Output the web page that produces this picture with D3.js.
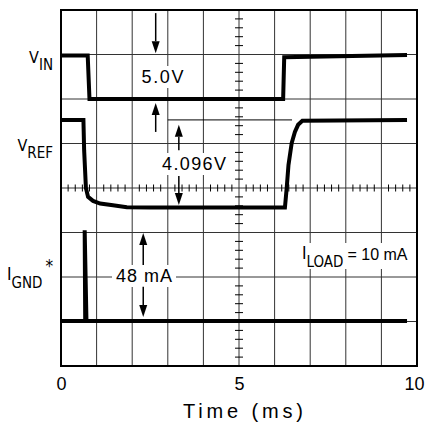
<!DOCTYPE html>
<html>
<head>
<meta charset="utf-8">
<script src="https://cdn.jsdelivr.net/npm/d3@7"></script>
<style>
  body { margin: 0; background: #fff; }
  text { font-family: "DejaVu Sans Condensed", "Liberation Sans", sans-serif; fill: #000; }
  .reg { font-family: "Liberation Sans", Arial, sans-serif; }
</style>
</head>
<body>
<script>
// scope screen: 10 time divisions (1 ms/div), 8 vertical divisions
const timeTicks = [0, 5, 10];

// V_IN trace (time in ms, screen divisions)
const vinTime = [0, 0.75, 0.80, 6.24, 6.27, 9.72];
const vinDiv  = [6.98, 6.98, 6.0, 6.0, 6.94, 6.99];

// V_REF trace
const vrefTime = [0, 0.63, 0.65, 0.70, 0.76, 0.90, 1.10, 1.46, 1.85, 2.5, 6.29, 6.34, 6.39, 6.48, 6.57, 6.66, 6.78, 9.72];
const vrefDiv  = [5.53, 5.53, 4.85, 4.0, 3.80, 3.71, 3.65, 3.61, 3.57, 3.56, 3.56, 4.0, 4.52, 5.01, 5.26, 5.42, 5.51, 5.53];

// I_GND trace
const ignTime = [0, 0.68, 0.665, 0.715, 9.72];
const ignDiv  = [1.01, 1.01, 3.05, 1.01, 1.01];

const W = 428, H = 437;
const svg = d3.select("body").append("svg").attr("width", W).attr("height", H);

const x = d3.scaleLinear().domain([0, 10]).range([61, 417]);
const y = d3.scaleLinear().domain([0, 8]).range([366, 10]);

// grid
const grid = svg.append("g").attr("stroke", "#333").attr("stroke-width", 1);
grid.selectAll(".v").data(d3.range(1, 10)).enter().append("line")
  .attr("x1", d => x(d)).attr("x2", d => x(d)).attr("y1", y(8)).attr("y2", y(0));
grid.selectAll(".h").data(d3.range(1, 8)).enter().append("line")
  .attr("y1", d => y(d)).attr("y2", d => y(d)).attr("x1", x(0)).attr("x2", x(10));

// minor ticks on the centre lines
const minor = svg.append("g").attr("stroke", "#000").attr("stroke-width", 1);
minor.selectAll(".mx").data(d3.range(1, 50).filter(i => i % 5 !== 0)).enter().append("line")
  .attr("x1", d => x(d / 5)).attr("x2", d => x(d / 5))
  .attr("y1", y(4) - 3.5).attr("y2", y(4) + 3.5);
minor.selectAll(".my").data(d3.range(1, 40).filter(i => i % 5 !== 0)).enter().append("line")
  .attr("y1", d => y(d / 5)).attr("y2", d => y(d / 5))
  .attr("x1", x(5) - 4).attr("x2", x(5) + 4);

// frame
svg.append("rect").attr("x", x(0)).attr("y", y(8))
  .attr("width", x(10) - x(0)).attr("height", y(0) - y(8))
  .attr("fill", "none").attr("stroke", "#000").attr("stroke-width", 2);

// reference line for 4.096V
svg.append("line").attr("x1", x(3.0)).attr("x2", x(6.49))
  .attr("y1", y(5.53)).attr("y2", y(5.53)).attr("stroke", "#000").attr("stroke-width", 1);

// labels with white box
function boxLabel(s, cx, base, size, len) {
  const g = svg.append("g");
  const t = g.append("text").attr("class", "reg").attr("x", cx).attr("y", base)
    .attr("text-anchor", "middle").attr("font-size", size)
    .attr("textLength", len).attr("lengthAdjust", "spacing").text(s);
  const b = t.node().getBBox();
  g.insert("rect", "text").attr("x", b.x - 4).attr("y", b.y - 1)
    .attr("width", b.width + 8).attr("height", b.height + 2).attr("fill", "#fff");
}

boxLabel("5.0V", 162.5, 83, 18, 42);
boxLabel("4.096V", 194, 170, 18, 64);
boxLabel("48 mA", 144, 282, 18, 56);

// I_LOAD annotation
(function () {
  const g = svg.append("g");
  g.append("rect").attr("x", 299).attr("y", 243).attr("width", 114).attr("height", 26).attr("fill", "#fff");
  const t = g.append("text").attr("x", 302).attr("y", 259).attr("font-size", 17);
  t.append("tspan").text("I");
  t.append("tspan").attr("dy", 8).attr("font-size", 15).text("LOAD");
  t.append("tspan").attr("class", "reg").attr("dy", -7).attr("dx", 4).attr("font-size", 16).text("= 10 mA");
})();

// arrows
function arrow(t, from, to) {
  const px = x(t), y0 = y(from), y1 = y(to);
  const dir = y1 > y0 ? 1 : -1;
  const hl = 12, hw = 4;
  svg.append("line").attr("x1", px).attr("x2", px).attr("y1", y0).attr("y2", y1 - dir * hl)
    .attr("stroke", "#000").attr("stroke-width", 1.5);
  svg.append("path").attr("d", `M${px},${y1}L${px - hw},${y1 - dir * hl}L${px + hw},${y1 - dir * hl}Z`)
    .attr("fill", "#000");
}
arrow(2.66, 7.93, 7.03);
arrow(2.66, 5.26, 5.91);
arrow(3.31, 4.85, 5.42);
arrow(3.31, 4.27, 3.62);
arrow(2.31, 2.27, 2.99);
arrow(2.31, 1.78, 1.10);

// traces
const line = d3.line().x(d => x(d[0])).y(d => y(d[1]));
function trace(ts, vs) {
  svg.append("path").datum(ts.map((t, i) => [t, vs[i]]))
    .attr("d", line).attr("fill", "none").attr("stroke", "#000")
    .attr("stroke-width", 4).attr("stroke-linejoin", "miter");
}
trace(vinTime, vinDiv);
trace(vrefTime, vrefDiv);
trace(ignTime, ignDiv);

// x axis tick labels
const ax = svg.append("g").attr("transform", `translate(0,${y(0)})`)
  .call(d3.axisBottom(x).tickValues(timeTicks).tickSize(0).tickPadding(11));
ax.select(".domain").remove();
ax.selectAll("text").attr("font-size", 18)
  .style("font-family", '"Liberation Sans",Arial,sans-serif')
  .attr("dx", d => d === 10 ? -3 : 0);

svg.append("text").attr("class", "reg").attr("x", 243).attr("y", 418).attr("text-anchor", "middle")
  .attr("font-size", 20).attr("textLength", 120).attr("lengthAdjust", "spacing").text("Time (ms)");

// channel labels
function chLabel(main, sub, base) {
  const t = svg.append("text").attr("x", 53).attr("y", base).attr("text-anchor", "end").attr("font-size", 16);
  t.append("tspan").text(main);
  t.append("tspan").attr("dy", 7).attr("font-size", 15).text(sub);
}
chLabel("V", "IN", 63);
chLabel("V", "REF", 151);
(function () {
  const t = svg.append("text").attr("x", 7).attr("y", 280).attr("font-size", 17);
  t.append("tspan").text("I");
  t.append("tspan").attr("dy", 8).attr("font-size", 15).text("GND");
  t.append("tspan").attr("dy", -16).attr("dx", 3).attr("font-size", 17).text("*");
})();
</script>
</body>
</html>
